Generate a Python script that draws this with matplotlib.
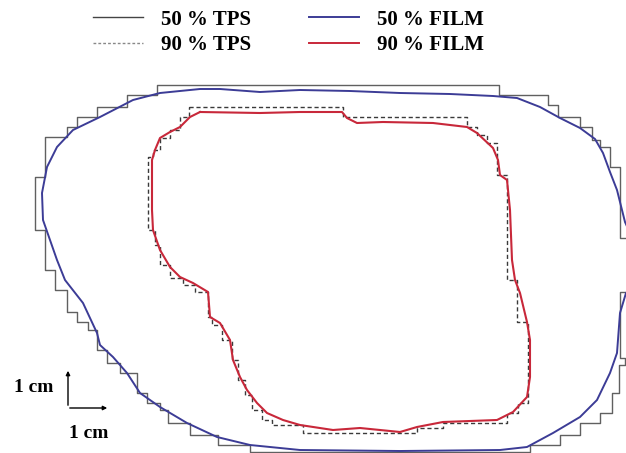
import matplotlib
matplotlib.use('Agg')
from matplotlib import pyplot as plt
from matplotlib.lines import Line2D

# contour coordinates, traced in image units (x right, y down)
# 50 % isodose, film measurement
film50_x = [640, 625, 617, 610, 603, 595, 580, 560, 540, 517, 493, 450, 400, 350, 300,
            260, 220, 200, 160, 133, 100, 73, 57, 47, 42, 43, 50, 57, 65, 83, 97, 100,
            113, 127, 140, 160, 187, 217, 250, 300, 400, 500, 527, 553, 580, 597, 610,
            617, 620, 626, 640]
film50_y = [255, 222, 190, 172, 153, 139, 128, 118, 107, 98, 96, 94, 93, 91, 90,
            92, 89, 89, 93, 100, 117, 130, 147, 167, 193, 220, 240, 260, 280, 303, 333, 345,
            357, 373, 393, 407, 423, 437, 445, 450, 451, 450, 447, 433, 417, 400, 373,
            353, 313, 293, 280]

# 50 % isodose, planning system (voxel staircase)
tps50_x = [640, 620, 620, 610, 610, 600, 600, 592, 592, 580, 580, 558, 558, 548, 548,
           499, 499, 157, 157, 127, 127, 97, 97, 77, 77, 67, 67, 45, 45, 35, 35, 45, 45,
           55, 55, 67, 67, 77, 77, 88, 88, 97, 97, 107, 107, 120, 120, 137, 137, 147, 147,
           160, 160, 168, 168, 190, 190, 218, 218, 250, 250, 530, 530, 560, 560, 580, 580,
           600, 600, 612, 612, 619, 619, 625, 625, 620, 620, 640]
tps50_y = [238, 238, 167, 167, 147, 147, 140, 140, 127, 127, 117, 117, 105, 105, 95,
           95, 85, 85, 95, 95, 107, 107, 117, 117, 127, 127, 137, 137, 177, 177, 230, 230, 270,
           270, 290, 290, 312, 312, 322, 322, 330, 330, 350, 350, 363, 363, 373, 373, 393, 393, 403,
           403, 410, 410, 423, 423, 435, 435, 445, 445, 452, 452, 445, 445, 435, 435, 423,
           423, 413, 413, 393, 393, 365, 365, 358, 358, 292, 292]

# 90 % isodose, film measurement
film90_x = [200, 260, 300, 342, 347, 357, 383, 433, 467, 477, 493, 498, 500, 507, 510,
            512, 515, 520, 527, 530, 530, 527, 513, 497, 443, 417, 400, 360, 333, 300, 283,
            267, 257, 247, 240, 233, 230, 220, 210, 208, 193, 180, 170, 160, 153, 152, 152,
            155, 160, 170, 180, 190, 200]
film90_y = [112, 113, 112, 112, 118, 123, 122, 123, 127, 133, 148, 160, 175, 180, 210,
            260, 280, 293, 322, 340, 377, 397, 412, 420, 422, 427, 432, 428, 430, 425, 420,
            413, 403, 390, 377, 360, 340, 323, 317, 292, 283, 277, 267, 250, 230, 210, 160,
            150, 138, 132, 127, 117, 112]

# 90 % isodose, planning system
tps90_x = [189, 343, 343, 467, 467, 477, 477, 487, 487, 497, 497, 507, 507, 517, 517,
           528, 528, 518, 518, 507, 507, 443, 443, 417, 417, 303, 303, 272, 272, 262, 262,
           252, 252, 245, 245, 238, 238, 232, 232, 222, 222, 212, 212, 208, 208, 195, 195,
           183, 183, 170, 170, 160, 160, 155, 155, 148, 148, 153, 153, 160, 160, 170, 170,
           180, 180, 189, 189]
tps90_y = [107, 107, 117, 117, 127, 127, 135, 135, 143, 143, 175, 175, 280, 280, 322,
           322, 403, 403, 413, 413, 423, 423, 428, 428, 433, 433, 425, 425, 420, 420, 410,
           410, 395, 395, 380, 380, 360, 360, 340, 340, 325, 325, 317, 317, 292, 292, 285,
           285, 278, 278, 265, 265, 245, 245, 230, 230, 157, 157, 150, 150, 138, 138, 130,
           130, 117, 117, 107]

labels = ['50 % TPS', '90 % TPS', '50 % FILM', '90 % FILM']
scale_label = '1 cm'

c_tps50 = '#606060'
c_tps90 = '#3a3a3a'
c_film50 = '#3c3c96'
c_film90 = '#c8283a'

plt.rcParams['font.family'] = ['Liberation Serif', 'DejaVu Serif']

fig = plt.figure(figsize=(6.26, 4.53), dpi=100)
ax = fig.add_axes([0, 0, 1, 1])
ax.set_xlim(0, 626)
ax.set_ylim(453, 0)
ax.axis('off')

ax.plot(tps50_x, tps50_y, color=c_tps50, linewidth=1.0)
ax.plot(tps90_x, tps90_y, color=c_tps90, linewidth=1.0, linestyle=(0, (3, 2)))
ax.plot(film50_x, film50_y, color=c_film50, linewidth=1.4)
ax.plot(film90_x, film90_y, color=c_film90, linewidth=1.5)

# scale bar
ax.annotate('', xy=(68, 368), xytext=(68, 408),
            arrowprops=dict(arrowstyle='-|>', color='black', lw=1, mutation_scale=6))
ax.annotate('', xy=(110, 408), xytext=(67, 408),
            arrowprops=dict(arrowstyle='-|>', color='black', lw=1, mutation_scale=6))
ax.text(34, 387, scale_label, ha='center', va='center', fontsize=14, fontweight='bold')
ax.text(89, 434, scale_label, ha='center', va='center', fontsize=14, fontweight='bold')

handles = [Line2D([], [], color='#444444', lw=1.0),
           Line2D([], [], color='#888888', lw=1.0, linestyle=(0, (2, 1.5))),
           Line2D([], [], color=c_film50, lw=1.4),
           Line2D([], [], color=c_film90, lw=1.4)]
leg = ax.legend(handles, labels, ncol=2, loc='upper center', bbox_to_anchor=(0.461, 1.02),
                frameon=False, handlelength=2.4, handletextpad=0.85, columnspacing=2.8,
                labelspacing=0.25, prop={'size': 15, 'weight': 'bold'})

fig.savefig('out.png', dpi=100)
